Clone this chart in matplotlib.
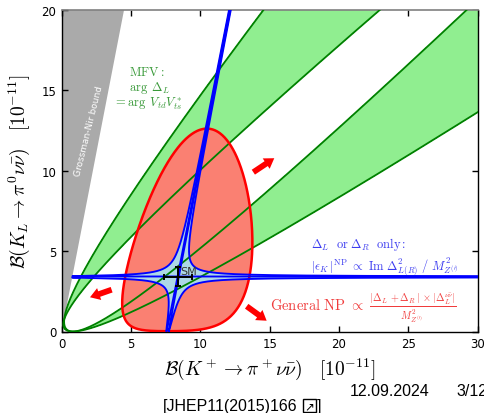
import numpy as np
import matplotlib
matplotlib.use("Agg")
import matplotlib.pyplot as plt
from matplotlib.patches import FancyArrowPatch, Rectangle

plt.rcParams['mathtext.fontset'] = 'cm'

# ---------------- values ----------------
x_ticks = [0, 5, 10, 15, 20, 25, 30]
y_ticks = [0, 5, 10, 15, 20]
sm_point = (8.4, 3.4)          # SM prediction (K+, KL)
sm_err = (1.0, 0.6)
gn_ratio = 4.45                # Grossman-Nir bound slope
red_radius = 0.81              # general NP region size
mfv_charm = 0.90               # charm offset of MFV curves
mfv_cot = [1.92, 2.45]         # MFV band edges (phase range)
epsk_eps = 0.014               # eps_K allowed width
arrow_tails = [(13.82, 9.91), (3.60, 2.60), (13.34, 1.57)]
arrow_heads = [(15.33, 10.78), (2.04, 2.13), (14.78, 0.67)]

W_PX, H_PX = 485, 414
fig = plt.figure(figsize=(W_PX / 100, H_PX / 100), dpi=100)
ax = fig.add_axes([61.7 / W_PX, 1 - 332.5 / H_PX, 416 / W_PX, 321.5 / H_PX])
ax.set_xlim(0, 30)
ax.set_ylim(0, 20)

u0 = np.sqrt(sm_point[1] / gn_ratio)
v0 = np.sqrt(sm_point[0] - u0 ** 2)


def to_plane(u, v):
    return u ** 2 + v ** 2, gn_ratio * u ** 2


# grid for filled regions
X, Y = np.meshgrid(np.linspace(0, 30, 1600), np.linspace(0, 20, 1200))
U = np.sqrt(Y / gn_ratio)
Wd = X - Y / gn_ratio
valid = Wd >= 0
V = np.sqrt(np.clip(Wd, 0, None))
blue_f = np.full(X.shape, 1e9)
green_g = np.full(X.shape, 1e9)
c1, c2 = mfv_cot
for su in (1, -1):
    for sv in (1, -1):
        uu = su * U
        vv = sv * V
        blue_f = np.minimum(blue_f, np.abs((uu - u0) * (vv - v0)))
        k = (vv - mfv_charm) / np.where(np.abs(uu) < 1e-9, 1e-9, uu)
        green_g = np.minimum(green_g, np.maximum(c1 - k, k - c2))
blue_f = np.where(valid, blue_f, 1e9)
green_g = np.where(valid, green_g, 1e9)

# Grossman-Nir grey region
ax.fill([0, 20 / gn_ratio, 0], [0, 20, 20], color='#aaaaaa', lw=0, zorder=1)
ax.text(1.95, 12.5, 'Grossman-Nir bound', rotation=76, color='white',
        fontsize=6.5, ha='center', va='center', rotation_mode='anchor', zorder=1.5)

# MFV green band
ax.contourf(X, Y, green_g, levels=[-1e12, 0], colors=['#90ee90'], zorder=2)

# General NP red region
th = np.linspace(0, 2 * np.pi, 600)
xr, yr = to_plane(u0 + red_radius * np.cos(th), v0 + red_radius * np.sin(th))
ax.fill(xr, yr, color='#fa8072', lw=0, zorder=3)

# eps_K light blue region
ax.contourf(X, Y, blue_f - epsk_eps, levels=[-1e12, 0], colors=['#add8e6'], zorder=4)

# MFV lines
uline = np.linspace(-2.6, 2.6, 3000)
for c in mfv_cot:
    xg, yg = to_plane(uline, mfv_charm + c * uline)
    ax.plot(xg, yg, color='green', lw=1.3, zorder=5)

ax.plot(xr, yr, color='red', lw=1.8, zorder=6)

# eps_K hyperbola branches
du_max = 1.4
du_neg = u0 + 2.3
dv_pos = 3.5
dv_neg = v0 + 6.0
e = epsk_eps
branch_du = [
    np.geomspace(e / dv_pos, du_max, 1500),
    np.geomspace(e / dv_neg, du_max, 1500),
    -np.geomspace(e / dv_pos, du_neg, 1500),
    -np.geomspace(e / dv_neg, du_neg, 1500),
]
branch_sign = [1, -1, -1, 1]
for du, s in zip(branch_du, branch_sign):
    dv = s * e / np.abs(du)
    xb, yb = to_plane(u0 + du, v0 + dv)
    ax.plot(xb, yb, color='blue', lw=1.35, zorder=7)

# SM point
ax.errorbar(sm_point[0], sm_point[1], xerr=sm_err[0], yerr=sm_err[1], fmt='none',
            ecolor='black', elinewidth=1.4, capsize=2.5, capthick=1.4, zorder=9)
ax.text(8.55, 3.75, 'SM', fontsize=8, color='#333333', ha='left', va='center', zorder=10)

# arrows
for t, h in zip(arrow_tails, arrow_heads):
    ar = FancyArrowPatch(t, h, arrowstyle='simple,head_width=0.9,head_length=0.7,tail_width=0.42',
                         mutation_scale=10, color='red', lw=0, shrinkA=0, shrinkB=0, zorder=8)
    ax.add_patch(ar)

# annotations
gcol = '#3a9a3a'
ax.text(4.85, 16.2, r'$\mathrm{MFV}:$', color=gcol, fontsize=9, ha='left', va='center')
ax.text(4.85, 15.2, r'$\arg\ \Delta_L$', color=gcol, fontsize=9, ha='left', va='center')
ax.text(3.70, 14.25, r'$=\arg\ V_{td}V_{ts}^*$', color=gcol, fontsize=9, ha='left', va='center')

bcol = '#3c3cf0'
ax.text(18.0, 5.45, r'$\Delta_L\ \ \mathrm{or}\ \Delta_R\ \ \mathrm{only}:$', color=bcol,
        fontsize=9, ha='left', va='center')
ax.text(18.0, 4.15, r'$|\epsilon_K\,|^{\rm NP}\ \propto\ \mathrm{Im}\ \Delta^2_{L(R)}\ /\ M^2_{Z^{(\prime)}}$',
        color=bcol, fontsize=9, ha='left', va='center')

rcol = '#f03c3c'
ax.text(15.0, 1.5, r'$\mathrm{General\ NP}\ \propto\ \frac{|\Delta_L\,+\Delta_R\,|\,\times|\Delta_L^{\nu\bar\nu}|}{M^2_{Z^{(\prime)}}}$',
        color=rcol, fontsize=10.5, ha='left', va='center', zorder=10)

# axes styling
ax.set_xticks(x_ticks)
ax.set_yticks(y_ticks)
ax.tick_params(direction='in', top=True, right=True, length=4, width=1,
               labelsize=8.5, pad=4)
for side in ['left', 'bottom', 'right']:
    ax.spines[side].set_color('black')
    ax.spines[side].set_linewidth(1.0)
ax.spines['top'].set_color('#808080')
ax.spines['top'].set_linewidth(1.2)

ax.set_xlabel(r'$\mathcal{B}(K^+\rightarrow\pi^+\nu\bar{\nu})\quad[10^{-11}]$', fontsize=14, labelpad=4)
ax.set_ylabel(r'$\mathcal{B}(K_L\rightarrow\pi^0\nu\bar{\nu})\quad[10^{-11}]$', fontsize=14, labelpad=7)

# footer (slide) texts
ffam = ['Liberation Sans', 'DejaVu Sans']
fig.text(350 / W_PX, 1 - 391.7 / H_PX, '12.09.2024', fontsize=11.5, family=ffam, ha='left', va='center')
fig.text(456 / W_PX, 1 - 391.7 / H_PX, '3/12', fontsize=11.5, family=ffam, ha='left', va='center')
fig.text(163 / W_PX, 1 - 407 / H_PX, '[JHEP11(2015)166', fontsize=11.5, family=ffam, ha='left', va='center')
fig.text(309.5 / W_PX, 1 - 406.5 / H_PX, '\u2197', fontsize=8.5, family=['DejaVu Sans'], ha='center', va='center')
fig.patches.append(Rectangle((303 / W_PX, 1 - 413 / H_PX), 13 / W_PX, 13 / H_PX,
                             transform=fig.transFigure, fill=False, ec='black', lw=1.0))
fig.text(317 / W_PX, 1 - 407 / H_PX, ']', fontsize=11.5, family=ffam, ha='left', va='center')

fig.savefig('out.png', dpi=100)
